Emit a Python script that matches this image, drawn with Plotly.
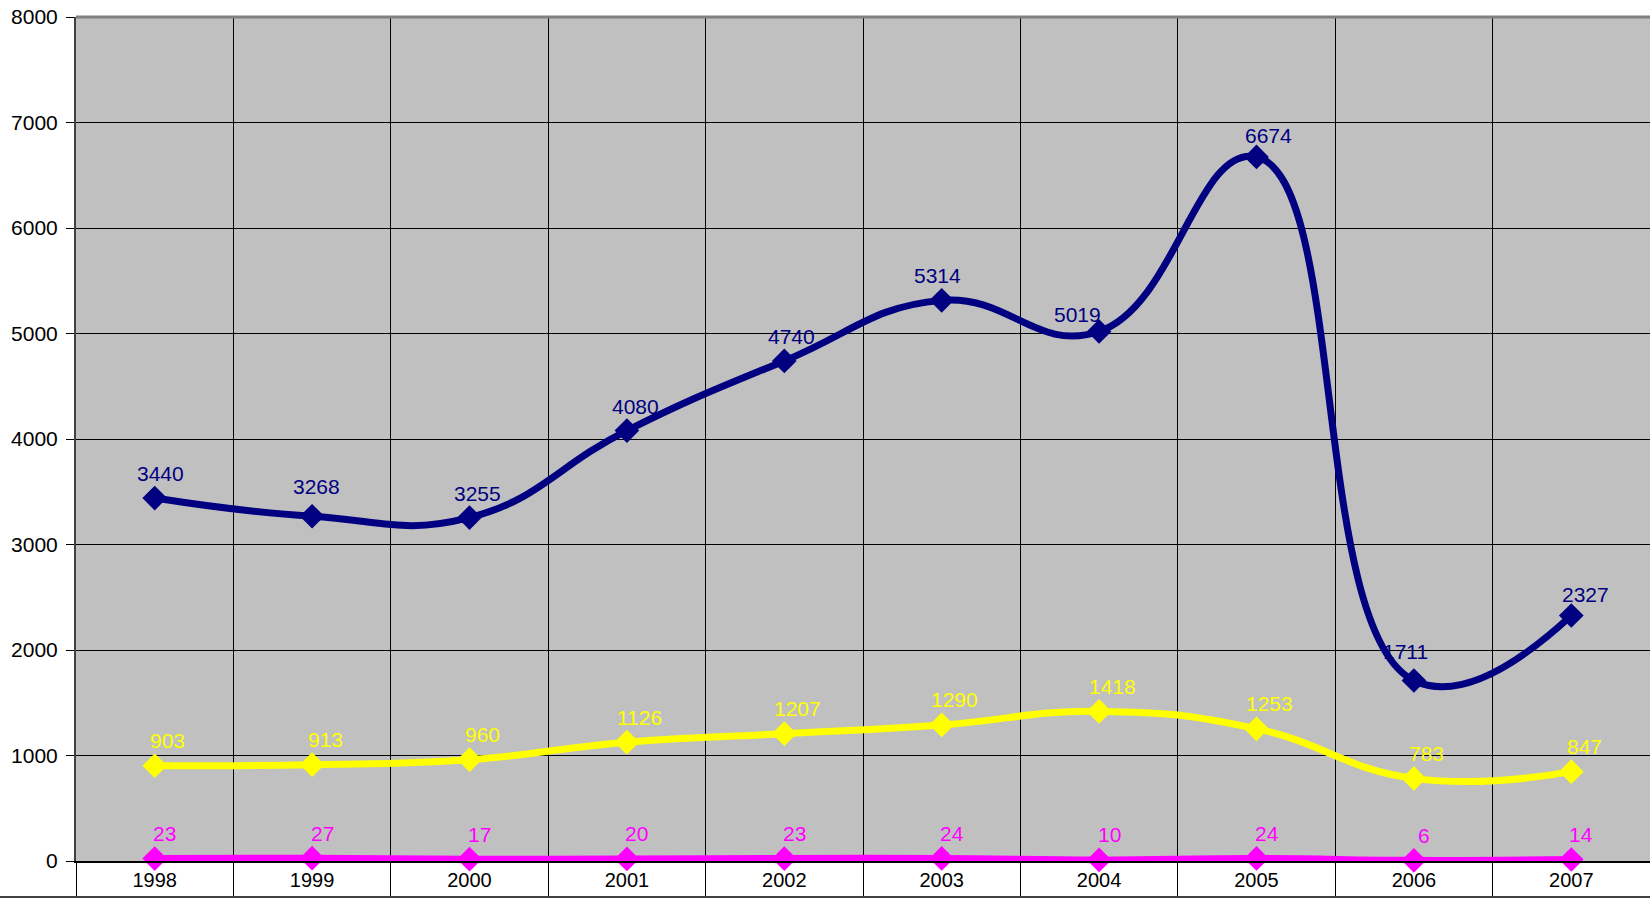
import plotly.graph_objects as go

years = ["1998", "1999", "2000", "2001", "2002", "2003", "2004", "2005", "2006", "2007"]
navy_values = [3440, 3268, 3255, 4080, 4740, 5314, 5019, 6674, 1711, 2327]
yellow_values = [903, 913, 960, 1126, 1207, 1290, 1418, 1253, 783, 847]
magenta_values = [23, 27, 17, 20, 23, 24, 10, 24, 6, 14]
y_tick_values = [0, 1000, 2000, 3000, 4000, 5000, 6000, 7000, 8000]

# label offsets (pixels) for data labels, style only
navy_dx = [6, 4, 8, 9, 7, -4, -22, 12, -8, 14]
navy_dy = [25, 30, 24, 24, 24, 25, 17, 21, 29, 21]

FONT = "Liberation Sans, Arial, sans-serif"

series = [
    ("navy", navy_values, "#000080"),
    ("yellow", yellow_values, "#FFFF00"),
    ("magenta", magenta_values, "#FF00FF"),
]

fig = go.Figure()
for name, vals, col in series:
    fig.add_trace(go.Scatter(
        x=years, y=vals, mode="lines+markers", name=name,
        line=dict(color=col, width=7, shape="spline", smoothing=1.3),
        marker=dict(symbol="diamond", size=19, color=col),
        hoverinfo="skip", cliponaxis=False,
    ))

annotations = []
for name, vals, col in series:
    for i, v in enumerate(vals):
        if name == "navy":
            dx, dy = navy_dx[i], navy_dy[i]
        elif name == "yellow":
            dx, dy = 13, 25
        else:
            dx, dy = 10, 25
        annotations.append(dict(
            x=i, y=v, xref="x", yref="y", text=str(v), showarrow=False,
            xanchor="center", yanchor="middle", xshift=dx, yshift=dy,
            font=dict(family=FONT, size=21, color=col),
        ))

fig.update_layout(
    width=1650, height=898,
    margin=dict(l=76, r=0, t=17, b=37),
    paper_bgcolor="white", plot_bgcolor="#C0C0C0",
    showlegend=False,
    font=dict(family=FONT, size=20, color="black"),
    annotations=annotations,
    shapes=[
        dict(type="line", xref="paper", yref="paper", x0=0, x1=1, y0=1, y1=1,
             line=dict(color="#808080", width=3)),
        dict(type="line", xref="paper", yref="paper", x0=-76/1574, x1=1,
             y0=-36/844, y1=-36/844, line=dict(color="#404040", width=2)),
    ],
)
fig.update_xaxes(
    type="category", tickson="boundaries", range=[-0.5, 9.5],
    showgrid=True, gridcolor="black", gridwidth=1,
    ticks="outside", ticklen=37, tickcolor="black", tickwidth=1,
    showline=True, linecolor="black", linewidth=1.5,
    tickfont=dict(family=FONT, size=20, color="black"),
)
fig.update_yaxes(
    range=[0, 8000], tickvals=y_tick_values,
    showgrid=True, gridcolor="black", gridwidth=1, zeroline=False,
    ticks="outside", ticklen=8, tickcolor="black",
    showline=True, linecolor="#404040", linewidth=2,
    tickfont=dict(family=FONT, size=21, color="black"),
    ticklabelstandoff=4,
)

fig.write_html("out.html", config={"displayModeBar": False},
               post_script="document.body.style.margin='0';document.body.style.overflow='hidden';")
